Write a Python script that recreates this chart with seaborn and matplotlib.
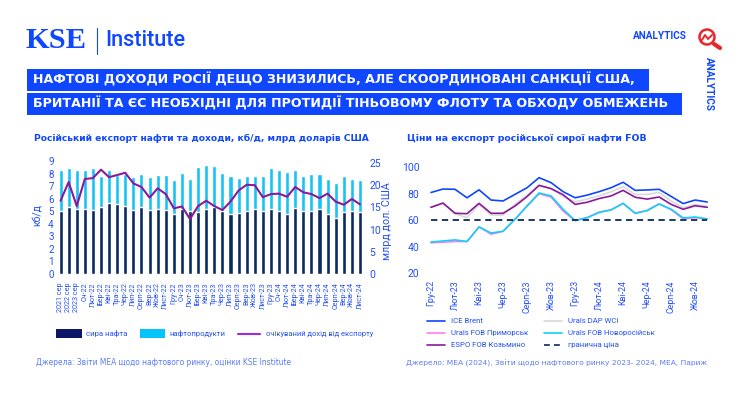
import numpy as np
import pandas as pd
import matplotlib
matplotlib.use('Agg')
import matplotlib.pyplot as plt
from matplotlib.patches import Rectangle, Ellipse
from matplotlib.lines import Line2D
import seaborn as sns

months_left = ['2021 сер', '2022 сер', '2023 сер', 'Сч-22', 'Лют-22', 'Бер-22', 'Кві-22', 'Тра-22', 'Чер-22', 'Лип-22',
               'Серп-22', 'Вер-22', 'Жов-22', 'Лист-22', 'Гру-22', 'Сч-23', 'Лют-23', 'Бер-23', 'Кві-23', 'Тра-23',
               'Чер-23', 'Лип-23', 'Серп-23', 'Вер-23', 'Жов-23', 'Лист-23', 'Гру-23', 'Сч-24', 'Лют-24', 'Бер-24',
               'Кві-24', 'Тра-24', 'Чер-24', 'Лип-24', 'Серп-24', 'Вер-24', 'Жов-24', 'Лист-24']
crude = [5.0, 5.3, 5.2, 5.2, 5.1, 5.3, 5.65, 5.6, 5.4, 5.1, 5.3, 5.1, 5.2, 5.1, 4.8, 5.2, 5.05, 4.96, 5.2, 5.36,
         5.0, 4.75, 4.83, 5.0, 5.15, 5.0, 5.15, 5.0, 4.77, 5.25, 5.0, 5.0, 5.17, 4.77, 4.5, 4.93, 5.04, 4.93]
total = [8.25, 8.45, 8.3, 8.3, 8.45, 7.8, 8.27, 7.9, 8.0, 7.7, 8.0, 7.7, 7.85, 7.9, 7.5, 8.05, 7.6, 8.49, 8.67, 8.57,
         8.01, 7.82, 7.64, 7.82, 7.82, 7.77, 8.41, 8.3, 8.09, 8.25, 7.77, 7.93, 7.98, 7.53, 7.21, 7.77, 7.59, 7.45]
revenue = [16.5, 20.7, 15.3, 21.4, 21.6, 23.5, 21.8, 22.3, 22.8, 20.4, 19.6, 17.2, 19.3, 18.0, 14.8, 15.2, 12.4, 15.3,
           16.5, 15.3, 14.4, 16.3, 18.8, 20.1, 20.0, 17.3, 18.0, 18.1, 17.4, 19.6, 18.4, 18.0, 17.1, 18.1, 16.3, 15.6,
           16.9, 15.7]

months_right = ['Гру-22', 'Сч-23', 'Лют-23', 'Бер-23', 'Кві-23', 'Тра-23', 'Чер-23', 'Лип-23', 'Серп-23', 'Вер-23',
                'Жов-23', 'Лист-23', 'Гру-23', 'Сч-24', 'Лют-24', 'Бер-24', 'Кві-24', 'Тра-24', 'Чер-24', 'Лип-24',
                'Серп-24', 'Вер-24', 'Жов-24', 'Лист-24']
brent = [81, 83.6, 83.4, 77, 83, 75.3, 74.6, 79.6, 84.6, 92.2, 88.4, 81.6, 77, 79, 81.6, 84.6, 88.7, 82.6, 82.9, 83.4,
         78, 72.6, 75.3, 73.8]
dap = [70, 73, 65, 62, 72, 64, 64, 72, 79, 86, 84, 78, 74, 76, 78.5, 81.5, 85.5, 79.5, 79.5, 81, 74.5, 69.5, 72, 70.5]
primorsk = [43, 43.5, 44, 44, 55, 49.5, 51.7, 60.8, 70.8, 80, 77.5, 67, 59.8, 62, 66, 68, 72.8, 65.3, 67.5, 72.5, 68,
            61, 62, 61]
novoros = [43.6, 44.4, 45.2, 44, 55, 50.4, 51.7, 60.8, 70.8, 80.6, 78.4, 68.3, 59.8, 62, 66, 67.8, 72.8, 65.3, 67.3,
           72.3, 68.3, 61.8, 62.5, 61]
espo = [69.8, 73, 65.3, 65, 72.8, 65.3, 65.3, 70.8, 77.9, 86.4, 83.9, 79.3, 72, 73.6, 76.4, 78.4, 82.6, 77.4, 76, 77.6,
        72, 68.3, 71, 69.8]
price_cap = [60] * len(months_right)

BLUE = '#0f46ff'
TXT = '#2350f5'
NAVY = '#0b2a5c'
CYAN = '#16c3f5'
PURPLE = '#8a1a9b'
RED = '#e8252b'
W, H = 750, 394

sns.set_theme(style='white')
plt.rcParams['font.family'] = ['Roboto', 'DejaVu Sans']

fig = plt.figure(figsize=(W / 100, H / 100), dpi=100)


def px_axes(x0, y0, x1, y1):
    return fig.add_axes([x0 / W, 1 - y1 / H, (x1 - x0) / W, (y1 - y0) / H])


def txt(x, y, s, fit=None, **kw):
    kw.setdefault('color', TXT)
    kw.setdefault('va', 'center')
    t = fig.text(x / W, 1 - y / H, s, **kw)
    # scale the font so the text spans the same length as in the reference
    if fit:
        ext = t.get_window_extent(fig.canvas.get_renderer())
        t.set_fontsize(t.get_fontsize() * fit / max(ext.width, ext.height))
    return t


def box(x0, y0, x1, y1, color):
    fig.add_artist(Rectangle((x0 / W, 1 - y1 / H), (x1 - x0) / W, (y1 - y0) / H, transform=fig.transFigure,
                             facecolor=color, edgecolor='none'))


def fline(xs, ys, **kw):
    fig.add_artist(Line2D([x / W for x in xs], [1 - y / H for y in ys], transform=fig.transFigure, **kw))


# header
txt(26, 41, 'KSE', fit=61, family=['Liberation Serif'], weight='bold', fontsize=26, color=BLUE)
fline([96.5, 96.5], [28, 54], color=BLUE, lw=0.8)
txt(105.5, 41, 'Institute', fit=81, weight='medium', fontsize=15.5, color=BLUE)
txt(633, 36, 'ANALYTICS', fit=54, weight='bold', fontsize=7, color=BLUE)
txt(709, 83.5, 'ANALYTICS', fit=54, weight='bold', fontsize=7, color=BLUE, rotation=270, ha='center')

# red icon
fig.add_artist(Ellipse((707 / W, 1 - 37 / H), 15 / W, 15 / H, transform=fig.transFigure, fill=False, edgecolor=RED,
                       lw=1.8))
fline([702, 705, 708, 712], [40, 35, 39, 35], color=RED, lw=1.4)
fline([714, 720], [44, 48], color=RED, lw=3)

# headline
box(27, 69, 649, 91, BLUE)
box(27, 93, 682, 115, BLUE)
txt(33, 80, 'НАФТОВІ ДОХОДИ РОСІЇ ДЕЩО ЗНИЗИЛИСЬ, АЛЕ СКООРДИНОВАНІ САНКЦІЇ США,', fit=608, color='white',
    family=['DejaVu Sans'], weight='bold', fontsize=10)
txt(33, 104, 'БРИТАНІЇ ТА ЄС НЕОБХІДНІ ДЛЯ ПРОТИДІЇ ТІНЬОВОМУ ФЛОТУ ТА ОБХОДУ ОБМЕЖЕНЬ', fit=640, color='white',
    family=['DejaVu Sans'], weight='bold', fontsize=10)

txt(34, 138, 'Російський експорт нафти та доходи, кб/д, млрд доларів США', fit=339, family=['DejaVu Sans'],
    weight='bold', fontsize=7.5, color=BLUE)
txt(407, 138, 'Ціни на експорт російської сирої нафти FOB', fit=242, family=['DejaVu Sans'], weight='bold',
    fontsize=7.5, color=BLUE)

# left chart
df = pd.DataFrame({'month': months_left, 'crude': crude, 'total': total, 'revenue': revenue})
ax = px_axes(56.5, 161, 364, 274)
sns.barplot(data=df, x='month', y='total', color=CYAN, width=0.5, saturation=1, ax=ax)
sns.barplot(data=df, x='month', y='crude', color=NAVY, width=0.5, saturation=1, ax=ax)
ax.set_xlim(-0.5, 37.5)
ax.set_ylim(0, 9)
ax.set_yticks(range(0, 10))
ax.set_xlabel('')
ax.set_ylabel('')
ax.tick_params(axis='y', length=0, pad=2, labelsize=7, labelcolor=TXT)
ax.tick_params(axis='x', length=0, pad=6, labelsize=5.2, labelcolor=TXT, rotation=90)
sns.despine(ax=ax, left=True, bottom=True)

ax2 = ax.twinx()
sns.lineplot(data=df, x='month', y='revenue', color=PURPLE, lw=1.5, ax=ax2, sort=False)
ax2.set_ylim(0, 113 / 4.44)
ax2.set_yticks(range(0, 30, 5))
ax2.set_ylabel('')
ax2.tick_params(axis='y', length=0, pad=4, labelsize=7.5, labelcolor=TXT)
sns.despine(ax=ax2, left=True, bottom=True, right=True)
txt(38, 215, 'кб/д', rotation=90, ha='center', fontsize=7.5)
txt(387, 221, 'млрд дол. США', fit=78, rotation=90, ha='center', fontsize=7.5)

# right chart
prices = pd.DataFrame({'month': months_right, 'brent': brent, 'dap': dap, 'primorsk': primorsk, 'novoros': novoros,
                       'espo': espo, 'cap': price_cap})
ax3 = px_axes(425, 167.3, 712, 273.3)
sns.lineplot(data=prices, x='month', y='dap', color='#d9d9d9', lw=1.2, ax=ax3, sort=False)
sns.lineplot(data=prices, x='month', y='brent', color=BLUE, lw=1.2, ax=ax3, sort=False)
sns.lineplot(data=prices, x='month', y='primorsk', color='#ff7df0', lw=1.2, ax=ax3, sort=False)
sns.lineplot(data=prices, x='month', y='espo', color=PURPLE, lw=1.2, ax=ax3, sort=False)
sns.lineplot(data=prices, x='month', y='novoros', color='#12d0f7', lw=1.2, ax=ax3, sort=False)
sns.lineplot(data=prices, x='month', y='cap', color=NAVY, lw=1.3, ls=(0, (3.5, 2.5)), ax=ax3, sort=False)
ax3.set_xlim(-0.5, 23.4)
ax3.set_ylim(20, 100)
ax3.set_yticks(range(20, 120, 20))
ax3.set_xticks(range(0, 24, 2))
ax3.set_xticklabels(months_right[::2])
ax3.set_xlabel('')
ax3.set_ylabel('')
ax3.tick_params(axis='y', length=0, pad=4, labelsize=7.5, labelcolor=TXT)
ax3.tick_params(axis='x', length=0, pad=5, labelsize=6.3, labelcolor=TXT, rotation=90)
sns.despine(ax=ax3, left=True, bottom=True)

# legends
box(56, 329, 82, 338, '#0c1566')
txt(86, 333.5, 'сира нафта', fit=41, fontsize=6.5)
box(140, 329, 165, 338, '#05c4fb')
txt(169, 333.5, 'нафтопродукти', fit=56, fontsize=6.5)
fline([238, 260], [333.5, 333.5], color='#a32bd6', lw=1.5)
txt(266, 333.5, 'очікуваний дохід від експорту', fit=107, fontsize=6.5)

legend_left = [('ICE Brent', BLUE, '-'), ('Urals FOB Приморськ', '#ff7df0', '-'), ('ESPO FOB Козьмино', PURPLE, '-')]
legend_right = [('Urals DAP WCI', '#d9d9d9', '-'), ('Urals FOB Новоросійськ', '#12d0f7', '-'),
                ('гранична ціна', NAVY, (0, (3.5, 2.5)))]
for i, (name, col, ls) in enumerate(legend_left):
    y = 321 + 11.8 * i
    fline([427, 445], [y, y], color=col, lw=1.2, ls=ls)
    txt(451, y, name, fontsize=5.6)
for i, (name, col, ls) in enumerate(legend_right):
    y = 321 + 11.8 * i
    fline([544, 562], [y, y], color=col, lw=1.2, ls=ls)
    txt(568, y, name, fontsize=5.6)

txt(36, 362.5, 'Джерела: Звіти МЕА щодо нафтового ринку, оцінки KSE Institute', fit=258, family=['DejaVu Sans'],
    fontsize=6.4, color='#5b7cf5')
txt(406, 363, 'Джерело: МЕА (2024), Звіти щодо нафтового ринку 2023- 2024, МЕА, Париж', fit=301,
    family=['DejaVu Sans'], fontsize=6.4, color='#5b7cf5')

fig.savefig('out.png', dpi=100)
